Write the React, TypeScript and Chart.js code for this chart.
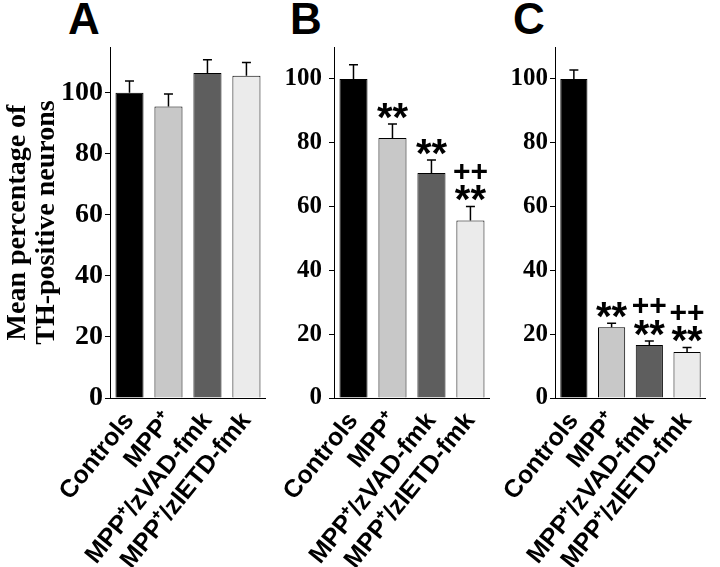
import React, { useEffect, useRef } from "react";
import { Chart, registerables } from "chart.js";
Chart.register(...registerables);

// ---- data ----
const categories = ["Controls", "MPP⁺", "MPP⁺/zVAD-fmk", "MPP⁺/zIETD-fmk"];
const valuesA = [100, 95.5, 106.5, 105.6];
const errorsA = [3.9, 4.1, 4.3, 4.3];
const marksA: string[][] = [[], [], [], []];
const valuesB = [100, 81.5, 70.5, 55.6];
const errorsB = [4.4, 4.4, 4.1, 4.4];
const marksB: string[][] = [[], ["**"], ["**"], ["++", "**"]];
const valuesC = [100, 22.2, 16.6, 14.4];
const errorsC = [2.8, 1.2, 1.3, 1.4];
const marksC: string[][] = [[], ["**"], ["++", "**"], ["++", "**"]];
const yTitle = ["Mean percentage of", "TH-positive neurons"];
const panelLetters = ["A", "B", "C"];
const barColors = ["#000000", "#c8c8c8", "#5e5e5e", "#ebebeb"];

const H = 567;
const CHART_TOP = 47;
const CHART_BOTTOM = 398;

const errorPlugin = {
  id: "errs",
  afterDatasetsDraw(chart: any, _args: any, opts: any) {
    const { ctx } = chart;
    const meta = chart.getDatasetMeta(0);
    const y = chart.scales.y;
    const values = chart.data.datasets[0].data as number[];
    meta.data.forEach((bar: any, i: number) => {
      const top = y.getPixelForValue(values[i] + opts.errors[i]);
      ctx.save();
      ctx.strokeStyle = "#000";
      ctx.lineWidth = 1.5;
      ctx.beginPath();
      ctx.moveTo(bar.x, bar.y);
      ctx.lineTo(bar.x, top);
      ctx.moveTo(bar.x - 4.5, top);
      ctx.lineTo(bar.x + 4.5, top);
      ctx.stroke();
      const marks: string[] = opts.marks[i] || [];
      ctx.fillStyle = "#000";
      ctx.textAlign = "center";
      ctx.textBaseline = "alphabetic";
      const n = marks.length;
      marks.forEach((m, k) => {
        const level = n - 1 - k; // 0 = closest to bar
        const center = top - 16 - level * 20;
        if (m.startsWith("*")) {
          const size = 40;
          ctx.font = `bold ${size}px "Liberation Sans", Arial, sans-serif`;
          ctx.fillText(m, bar.x, center + 0.57 * size);
        } else {
          const size = 30;
          ctx.font = `bold ${size}px "Liberation Sans", Arial, sans-serif`;
          ctx.fillText(m, bar.x, center + 0.35 * size);
        }
      });
      ctx.restore();
    });
  },
};

type PanelProps = {
  left: number;
  width: number;
  padRight: number;
  yWidth: number;
  yMax: number;
  values: number[];
  errors: number[];
  marks: string[][];
  tickFont: number;
  tickPad: number;
  showTitle: boolean;
};

function Panel(p: PanelProps) {
  const ref = useRef<HTMLCanvasElement>(null);
  useEffect(() => {
    if (!ref.current) return;
    const chart = new Chart(ref.current, {
      type: "bar",
      data: {
        labels: categories,
        datasets: [
          {
            data: p.values,
            backgroundColor: barColors,
            borderColor: "#000",
            borderWidth: 1,
            categoryPercentage: 1,
            barPercentage: 0.72,
          },
        ],
      },
      options: {
        responsive: false,
        animation: false,
        devicePixelRatio: 1,
        layout: { padding: { left: 0, right: p.padRight, top: CHART_TOP, bottom: 0 } },
        plugins: {
          legend: { display: false },
          tooltip: { enabled: false },
          // @ts-ignore
          errs: { errors: p.errors, marks: p.marks },
        },
        scales: {
          x: {
            grid: { display: false, drawTicks: false },
            border: { display: true, color: "#000", width: 1 },
            ticks: {
              color: "#000",
              autoSkip: false,
              minRotation: 51,
              maxRotation: 51,
              padding: 9,
              font: { family: '"Liberation Sans", Arial, sans-serif', weight: "bold", size: 25, lineHeight: 1.2 },
            },
            afterFit: (s: any) => {
              s.height = H - CHART_BOTTOM;
            },
          },
          y: {
            min: 0,
            max: p.yMax,
            grid: { display: true, drawOnChartArea: false, drawTicks: true, tickLength: 5, color: "#000" },
            border: { display: true, color: "#000", width: 1 },
            ticks: {
              stepSize: 20,
              includeBounds: false,
              color: "#000",
              padding: p.tickPad,
              font: { family: '"Liberation Serif", "Times New Roman", serif', weight: "bold", size: p.tickFont },
            },
            title: p.showTitle
              ? {
                  display: true,
                  text: yTitle,
                  color: "#000",
                  font: { family: '"Liberation Serif", "Times New Roman", serif', weight: "bold", size: 28, lineHeight: 1.05 },
                  padding: { top: 3, bottom: 0 },
                }
              : { display: false },
            afterFit: (s: any) => {
              s.width = p.yWidth;
            },
          },
        },
      },
      plugins: [errorPlugin],
    } as any);
    return () => chart.destroy();
  }, []);
  return (
    <canvas
      ref={ref}
      width={p.width}
      height={H}
      style={{ position: "absolute", left: p.left, top: 0, width: p.width, height: H }}
    />
  );
}

const letterStyle = (left: number): React.CSSProperties => ({
  position: "absolute",
  left,
  top: -3,
  font: 'bold 44px "Liberation Sans", Arial, sans-serif',
  lineHeight: "44px",
  color: "#000",
});

export default function App() {
  return (
    <div
      style={{
        position: "absolute",
        left: 0,
        top: 0,
        width: 720,
        height: H,
        background: "#fff",
        overflow: "hidden",
      }}
    >
      <div style={letterStyle(68)}>{panelLetters[0]}</div>
      <div style={letterStyle(290)}>{panelLetters[1]}</div>
      <div style={letterStyle(513)}>{panelLetters[2]}</div>
      <Panel left={0} width={280} padRight={10} yWidth={110} yMax={115} values={valuesA} errors={errorsA} marks={marksA} tickFont={28} tickPad={2} showTitle={true} />
      <Panel left={270} width={234} padRight={10} yWidth={64} yMax={110} values={valuesB} errors={errorsB} marks={marksB} tickFont={25} tickPad={7} showTitle={false} />
      <Panel left={490} width={230} padRight={5} yWidth={65} yMax={110} values={valuesC} errors={errorsC} marks={marksC} tickFont={25} tickPad={2} showTitle={false} />
    </div>
  );
}
